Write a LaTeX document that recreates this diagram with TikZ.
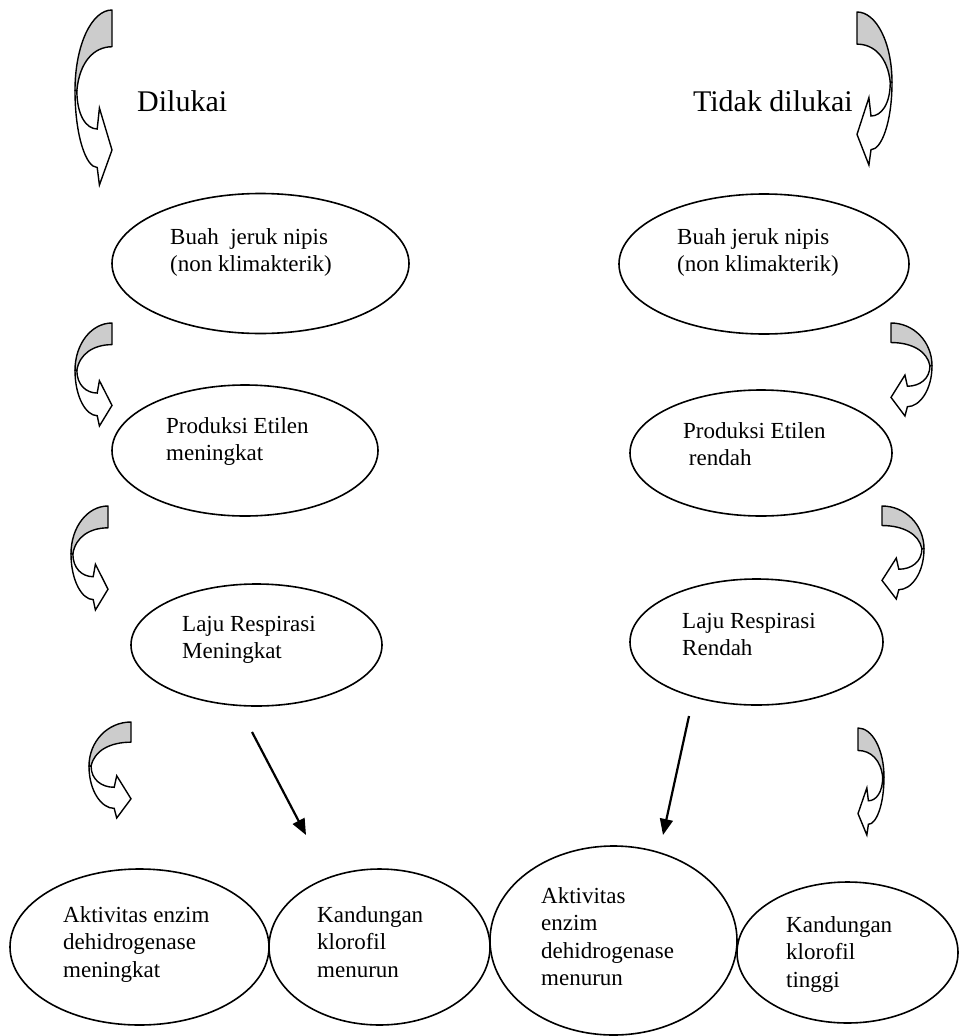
\documentclass[tikz,border=0pt]{standalone}
\usepackage{fontspec}
\setmainfont{Liberation Serif}
\usetikzlibrary{shapes.geometric,arrows.meta}
\definecolor{backgray}{RGB}{204,204,204}
\tikzset{
 ell/.style={draw, ellipse, line width=1.6pt, inner sep=0pt},
 txt/.style={anchor=base west, inner sep=0pt, font=\fontsize{23}{27.6}\selectfont},
 ttl/.style={anchor=base west, inner sep=0pt, font=\fontsize{30}{36}\selectfont},
 shaft/.style={line width=2.2pt, -{Triangle[length=16pt,width=13pt]}},
 cback/.style={fill=backgray, draw, line width=1.4pt, line join=round},
 cfront/.style={fill=white, draw, line width=1.4pt, line join=miter},
}
\newcommand\lns[1]{\begin{tabular}[t]{@{}l@{}}#1\end{tabular}}
\newcommand\cshape{%
 \path[cback] (1,0) .. controls (0.45,0) and (0,0.2) .. (0,0.46) -- (0.05,0.46) .. controls (0.12,0.3) and (0.5,0.21) .. (1,0.21) -- cycle;
 \path[cfront] (0,0.46) .. controls (0,0.72) and (0.3,0.9) .. (0.6,0.9) -- (0.66,1) -- (1,0.8) -- (0.66,0.56) -- (0.6,0.68) .. controls (0.3,0.68) and (0.05,0.6) .. (0.05,0.46) -- cycle;}
\newcommand\carrowL[4]{\begin{scope}[shift={(#1,#2)},xscale=#3,yscale=#4]\cshape\end{scope}}
\newcommand\carrowRt[4]{\begin{scope}[shift={(#1+#3,#2)},xscale=-#3,yscale=#4]\cshape\end{scope}}
\begin{document}
\begin{tikzpicture}[x=1pt,y=-1pt]
\useasboundingbox[fill=white] (0,0) rectangle (960,1036);
% titles
\node[ttl] (dil) at (137,111) {Dilukai};
\node[ttl, anchor=base east] (tdl) at (853,111) {Tidak dilukai};
% curved arrows
\carrowL{75}{10}{37}{175}
\carrowL{75}{323}{37}{103}
\carrowL{71}{506}{37}{104}
\carrowL{89}{722}{42}{96}
\carrowRt{857}{12}{35}{153}
\carrowRt{891}{323}{41}{93}
\carrowRt{882}{506}{42}{93}
\carrowRt{858}{728}{26}{107}
% ellipses
\node[ell, minimum width=297pt, minimum height=140pt] (e1) at (260.5,263.5) {};
\node[ell, minimum width=290pt, minimum height=140pt] (e2) at (764,264) {};
\node[ell, minimum width=266pt, minimum height=131pt] (e3) at (245,450.5) {};
\node[ell, minimum width=262pt, minimum height=126pt] (e4) at (761,453) {};
\node[ell, minimum width=251pt, minimum height=122pt] (e5) at (256.5,645) {};
\node[ell, minimum width=253pt, minimum height=126pt] (e6) at (756.5,642) {};
\node[ell, minimum width=259pt, minimum height=156pt] (e7) at (139.5,947) {};
\node[ell, minimum width=221pt, minimum height=156pt] (e8) at (379.5,947) {};
\node[ell, minimum width=247pt, minimum height=189pt] (e9) at (613.5,940.5) {};
\node[ell, minimum width=221pt, minimum height=141pt] (e10) at (847.5,952.5) {};
% texts
\node[txt] (t1) at (170,244) {\lns{Buah\ \ jeruk nipis\\(non klimakterik)}};
\node[txt] (t2) at (677,244) {\lns{Buah jeruk nipis\\(non klimakterik)}};
\node[txt] (t3) at (166,433) {\lns{Produksi Etilen\\meningkat}};
\node[txt] (t4) at (683,438) {\lns{Produksi Etilen\\\ rendah}};
\node[txt] (t5) at (182,631) {\lns{Laju Respirasi\\Meningkat}};
\node[txt] (t6) at (682,628) {\lns{Laju Respirasi\\Rendah}};
\node[txt] (t7) at (63,922) {\lns{Aktivitas enzim\\dehidrogenase\\meningkat}};
\node[txt] (t8) at (317,922) {\lns{Kandungan\\klorofil\\menurun}};
\node[txt] (t9) at (541,903) {\lns{Aktivitas\\enzim\\dehidrogenase\\menurun}};
\node[txt] (t10) at (786,932) {\lns{Kandungan\\klorofil\\tinggi}};
% straight arrows
\coordinate (s1) at (252,732);
\coordinate (d1) at (306,835);
\coordinate (s2) at (689,716);
\coordinate (d2) at (663,835);
\draw[shaft] (s1) -- (d1);
\draw[shaft] (s2) -- (d2);
\end{tikzpicture}
\end{document}
